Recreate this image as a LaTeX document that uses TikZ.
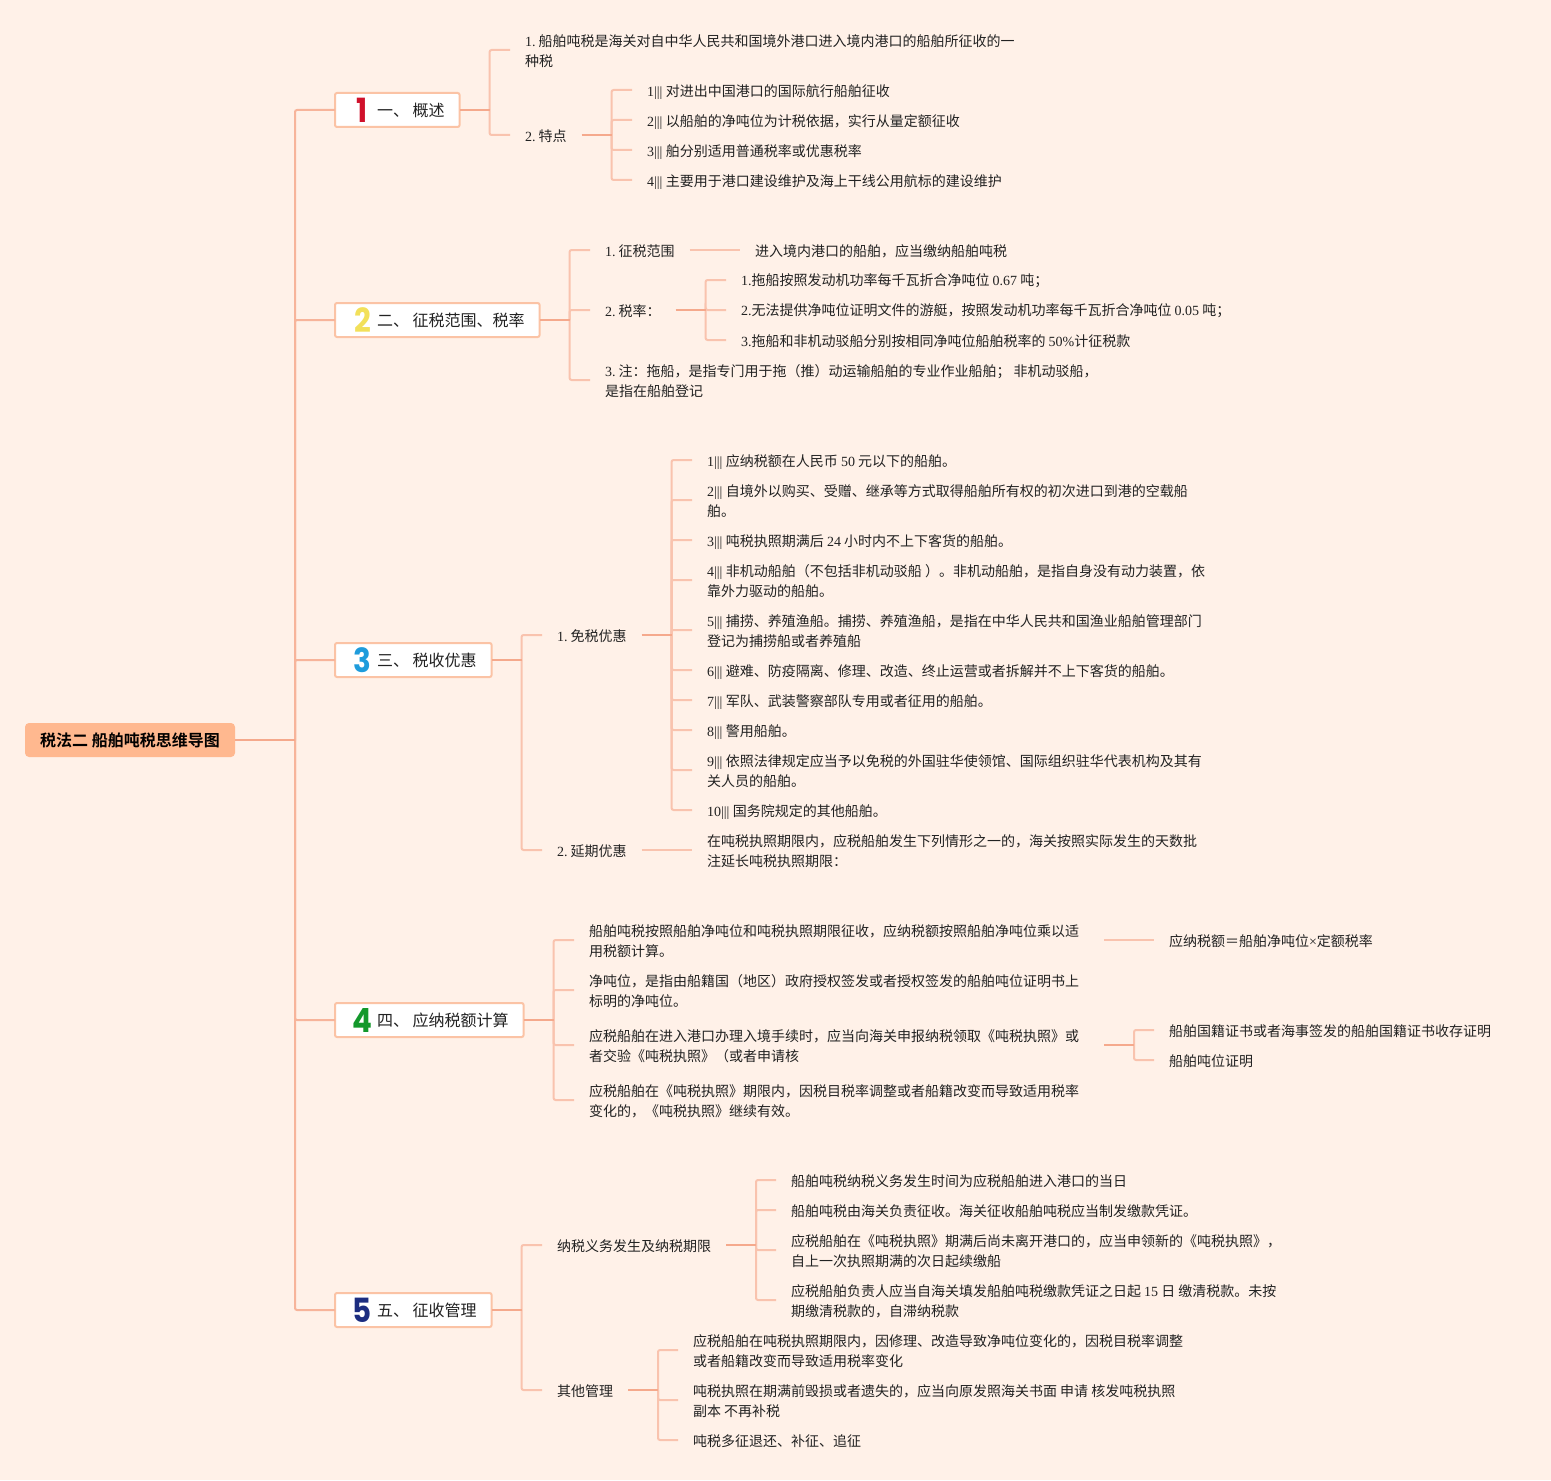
\documentclass[tikz,border=0pt]{standalone}
\usepackage{fontspec}
\setmainfont[BoldFont={Noto Sans CJK SC Bold}]{Noto Sans CJK SC}
\newfontfamily\latfont{Liberation Serif}
\newfontfamily\digfont[BoldFont={Poppins Bold}]{Poppins}
\newcommand\la[1]{{\latfont\smash{#1}}}
\newcommand\nm[1]{{\latfont\smash{#1}\hspace{2.3pt}}}
\definecolor{bgc}{HTML}{FFF1E8}
\definecolor{stemc}{HTML}{F5A98C}
\definecolor{trunkc}{HTML}{F7B49A}
\definecolor{stubc}{HTML}{F9C3AE}
\definecolor{boxc}{HTML}{FBC3A5}
\definecolor{rootc}{HTML}{FFB88F}
\definecolor{txtc}{HTML}{222222}
\tikzset{
  x=.75pt,y=-.75pt,
  txt/.style={anchor=west,inner xsep=11.25pt,inner ysep=0pt,outer sep=0pt,align=left,text=txtc,font=\fontsize{10.5}{15}\selectfont},
  wide/.style={txt,text width=375pt},
  lvl/.style={anchor=west,draw=boxc,fill=white,line width=1.5pt,rounded corners=1.5pt,minimum height=25.5pt,inner xsep=0pt,inner ysep=0pt,outer sep=0pt,text=txtc,font=\fontsize{12}{15}\selectfont},
  dig/.style={inner sep=0pt,font=\fontsize{25}{25}\digfont\bfseries},
  rootn/.style={fill=rootc,rounded corners=3pt,minimum width=157.5pt,minimum height=25.5pt,inner sep=0pt,outer sep=0pt,text=black,font=\fontsize{12}{15}\selectfont\bfseries},
  stub/.style={draw=stubc,line width=1.5pt,rounded corners=1.5pt},
  main/.style={draw=trunkc,line width=1.5pt,rounded corners=1.5pt},
  stem/.style={draw=stemc,line width=1.5pt},
  up/.style={yshift=.75pt},
}
% branch from a box parent, from a text parent, and a straight link
\newcommand\brb[3]{\draw[stub] (#1.east) ++(#2,0) |- ([up]#3.west);}
\newcommand\brt[3]{\draw[stub] ([up]#1.east) ++(#2,0) |- ([up]#3.west);}
\newcommand\lnk[2]{\draw[stub] ([up]#1.east) -- ([up]#2.west);}
\newcommand\stb[2]{\draw[stem] (#1.east) -- ++(#2,0);}
\newcommand\stt[2]{\draw[stem] ([up]#1.east) -- ++(#2,0);}
\newcommand\lvltxt[1]{\hspace*{31.5pt}\raisebox{-.75pt}{#1}\hspace*{11.25pt}}
\newcommand\dg[1]{\scalebox{.88}[1]{#1}}
\begin{document}
\begin{tikzpicture}
\fill[bgc] (0,0) rectangle (1551,1480);
\useasboundingbox (0,0) rectangle (1551,1480);
% root and level 1
\node[rootn] (root) at (130,740) {\raisebox{-.75pt}{税法二 船舶吨税思维导图}};
\node[lvl] (b1) at (335,110) {\lvltxt{一、 概述}};
\node[lvl] (b2) at (335,320) {\lvltxt{二、 征税范围、税率}};
\node[lvl] (b3) at (335,660) {\lvltxt{三、 税收优惠}};
\node[lvl] (b4) at (335,1020) {\lvltxt{四、 应纳税额计算}};
\node[lvl] (b5) at (335,1310) {\lvltxt{五、 征收管理}};
\node[dig,text={rgb,255:red,208;green,17;blue,43}] (d1) at (362.5,110) {\dg{1}};
\node[dig,text={rgb,255:red,242;green,224;blue,90}] (d2) at (362.5,320) {\dg{2}};
\node[dig,text={rgb,255:red,30;green,156;blue,220}] (d3) at (362.5,660) {\dg{3}};
\node[dig,text={rgb,255:red,19;green,152;blue,43}] (d4) at (362.5,1020) {\dg{4}};
\node[dig,text={rgb,255:red,28;green,45;blue,128}] (d5) at (362.5,1310) {\dg{5}};
% section 1
\node[txt] (a1) at (510,51) {\nm{1.}船舶吨税是海关对自中华人民共和国境外港口进入境内港口的船舶所征收的一\\种税};
\node[txt] (a2) at (510,136) {\nm{2.}特点};
\node[txt] (a21) at (632,91) {\la{1||| }对进出中国港口的国际航行船舶征收};
\node[txt] (a22) at (632,121) {\la{2||| }以船舶的净吨位为计税依据，实行从量定额征收};
\node[txt] (a23) at (632,151) {\la{3||| }舶分别适用普通税率或优惠税率};
\node[txt] (a24) at (632,181) {\la{4||| }主要用于港口建设维护及海上干线公用航标的建设维护};
% section 2
\node[txt] (c1) at (590,251) {\nm{1.}征税范围};
\node[txt] (c11) at (740,251) {进入境内港口的船舶，应当缴纳船舶吨税};
\node[txt] (c2) at (590,311) {\nm{2.}税率：};
\node[txt] (c21) at (726,281) {\la{1.}拖船按照发动机功率每千瓦折合净吨位 \la{0.67} 吨；};
\node[txt] (c22) at (726,311) {\la{2.}无法提供净吨位证明文件的游艇，按照发动机功率每千瓦折合净吨位 \la{0.05} 吨；};
\node[txt] (c23) at (726,341) {\la{3.}拖船和非机动驳船分别按相同净吨位船舶税率的 \la{50\%}计征税款};
\node[txt] (c3) at (590,381) {\nm{3.}注：拖船，是指专门用于拖（推）动运输船舶的专业作业船舶； 非机动驳船，\\是指在船舶登记};
% section 3
\node[txt] (e1) at (542,636) {\nm{1.}免税优惠};
\node[txt] (e101) at (692,461) {\la{1||| }应纳税额在人民币 \la{50} 元以下的船舶。};
\node[txt] (e102) at (692,501) {\la{2||| }自境外以购买、受赠、继承等方式取得船舶所有权的初次进口到港的空载船\\舶。};
\node[txt] (e103) at (692,541) {\la{3||| }吨税执照期满后 \la{24} 小时内不上下客货的船舶。};
\node[txt] (e104) at (692,581) {\la{4||| }非机动船舶（不包括非机动驳船 ）。非机动船舶，是指自身没有动力装置，依\\靠外力驱动的船舶。};
\node[txt] (e105) at (692,631) {\la{5||| }捕捞、养殖渔船。捕捞、养殖渔船，是指在中华人民共和国渔业船舶管理部门\\登记为捕捞船或者养殖船};
\node[txt] (e106) at (692,671) {\la{6||| }避难、防疫隔离、修理、改造、终止运营或者拆解并不上下客货的船舶。};
\node[txt] (e107) at (692,701) {\la{7||| }军队、武装警察部队专用或者征用的船舶。};
\node[txt] (e108) at (692,731) {\la{8||| }警用船舶。};
\node[txt] (e109) at (692,771) {\la{9||| }依照法律规定应当予以免税的外国驻华使领馆、国际组织驻华代表机构及其有\\关人员的船舶。};
\node[txt] (e110) at (692,811) {\la{10||| }国务院规定的其他船舶。};
\node[txt] (e2) at (542,851) {\nm{2.}延期优惠};
\node[txt] (e21) at (692,851) {在吨税执照期限内，应税船舶发生下列情形之一的，海关按照实际发生的天数批\\注延长吨税执照期限：};
% section 4
\node[wide] (f1) at (574,941) {船舶吨税按照船舶净吨位和吨税执照期限征收，应纳税额按照船舶净吨位乘以适\\用税额计算。};
\node[txt] (f11) at (1154,941) {应纳税额＝船舶净吨位\la{×}定额税率};
\node[wide] (f2) at (574,991) {净吨位，是指由船籍国（地区）政府授权签发或者授权签发的船舶吨位证明书上\\标明的净吨位。};
\node[wide] (f3) at (574,1046) {应税船舶在进入港口办理入境手续时，应当向海关申报纳税领取《吨税执照》或\\者交验《吨税执照》（或者申请核};
\node[txt] (f31) at (1154,1031) {船舶国籍证书或者海事签发的船舶国籍证书收存证明};
\node[txt] (f32) at (1154,1061) {船舶吨位证明};
\node[wide] (f4) at (574,1101) {应税船舶在《吨税执照》期限内，因税目税率调整或者船籍改变而导致适用税率\\变化的，《吨税执照》继续有效。};
% section 5
\node[txt] (g1) at (542,1246) {纳税义务发生及纳税期限};
\node[txt] (g11) at (776,1181) {船舶吨税纳税义务发生时间为应税船舶进入港口的当日};
\node[txt] (g12) at (776,1211) {船舶吨税由海关负责征收。海关征收船舶吨税应当制发缴款凭证。};
\node[txt] (g13) at (776,1251) {应税船舶在《吨税执照》期满后尚未离开港口的，应当申领新的《吨税执照》，\\自上一次执照期满的次日起续缴船};
\node[txt] (g14) at (776,1301) {应税船舶负责人应当自海关填发船舶吨税缴款凭证之日起 \la{15} 日 缴清税款。未按\\期缴清税款的，自滞纳税款};
\node[txt] (g2) at (542,1391) {其他管理};
\node[txt] (g21) at (678,1351) {应税船舶在吨税执照期限内，因修理、改造导致净吨位变化的，因税目税率调整\\或者船籍改变而导致适用税率变化};
\node[txt] (g22) at (678,1401) {吨税执照在期满前毁损或者遗失的，应当向原发照海关书面 申请 核发吨税执照\\副本 不再补税};
\node[txt] (g23) at (678,1441) {吨税多征退还、补征、追征};
% connectors: branches
\foreach \c in {b1,b2,b3,b4,b5}{\draw[main] (root.east) ++(60,0) |- (\c.west);}
\foreach \c in {a1,a2}{\brb{b1}{30}{\c}}
\foreach \c in {a21,a22,a23,a24}{\brt{a2}{30}{\c}}
\foreach \c in {c1,c2,c3}{\brb{b2}{30}{\c}}
\foreach \c in {c21,c22,c23}{\brt{c2}{30}{\c}}
\foreach \c in {e1,e2}{\brb{b3}{30}{\c}}
\foreach \c in {e101,e102,e103,e104,e105,e106,e107,e108,e109,e110}{\brt{e1}{30}{\c}}
\foreach \c in {f1,f2,f3,f4}{\brb{b4}{30}{\c}}
\foreach \c in {f31,f32}{\brt{f3}{30}{\c}}
\foreach \c in {g1,g2}{\brb{b5}{30}{\c}}
\foreach \c in {g11,g12,g13,g14}{\brt{g1}{30}{\c}}
\foreach \c in {g21,g22,g23}{\brt{g2}{30}{\c}}
\lnk{c1}{c11}
\lnk{e2}{e21}
\lnk{f1}{f11}
% stems
\stb{root}{60}\stb{b1}{30}\stt{a2}{30}\stb{b2}{30}\stt{c2}{30}\stb{b3}{30}\stt{e1}{30}\stb{b4}{30}\stt{f3}{30}\stb{b5}{30}\stt{g1}{30}\stt{g2}{30}
\end{tikzpicture}
\end{document}
